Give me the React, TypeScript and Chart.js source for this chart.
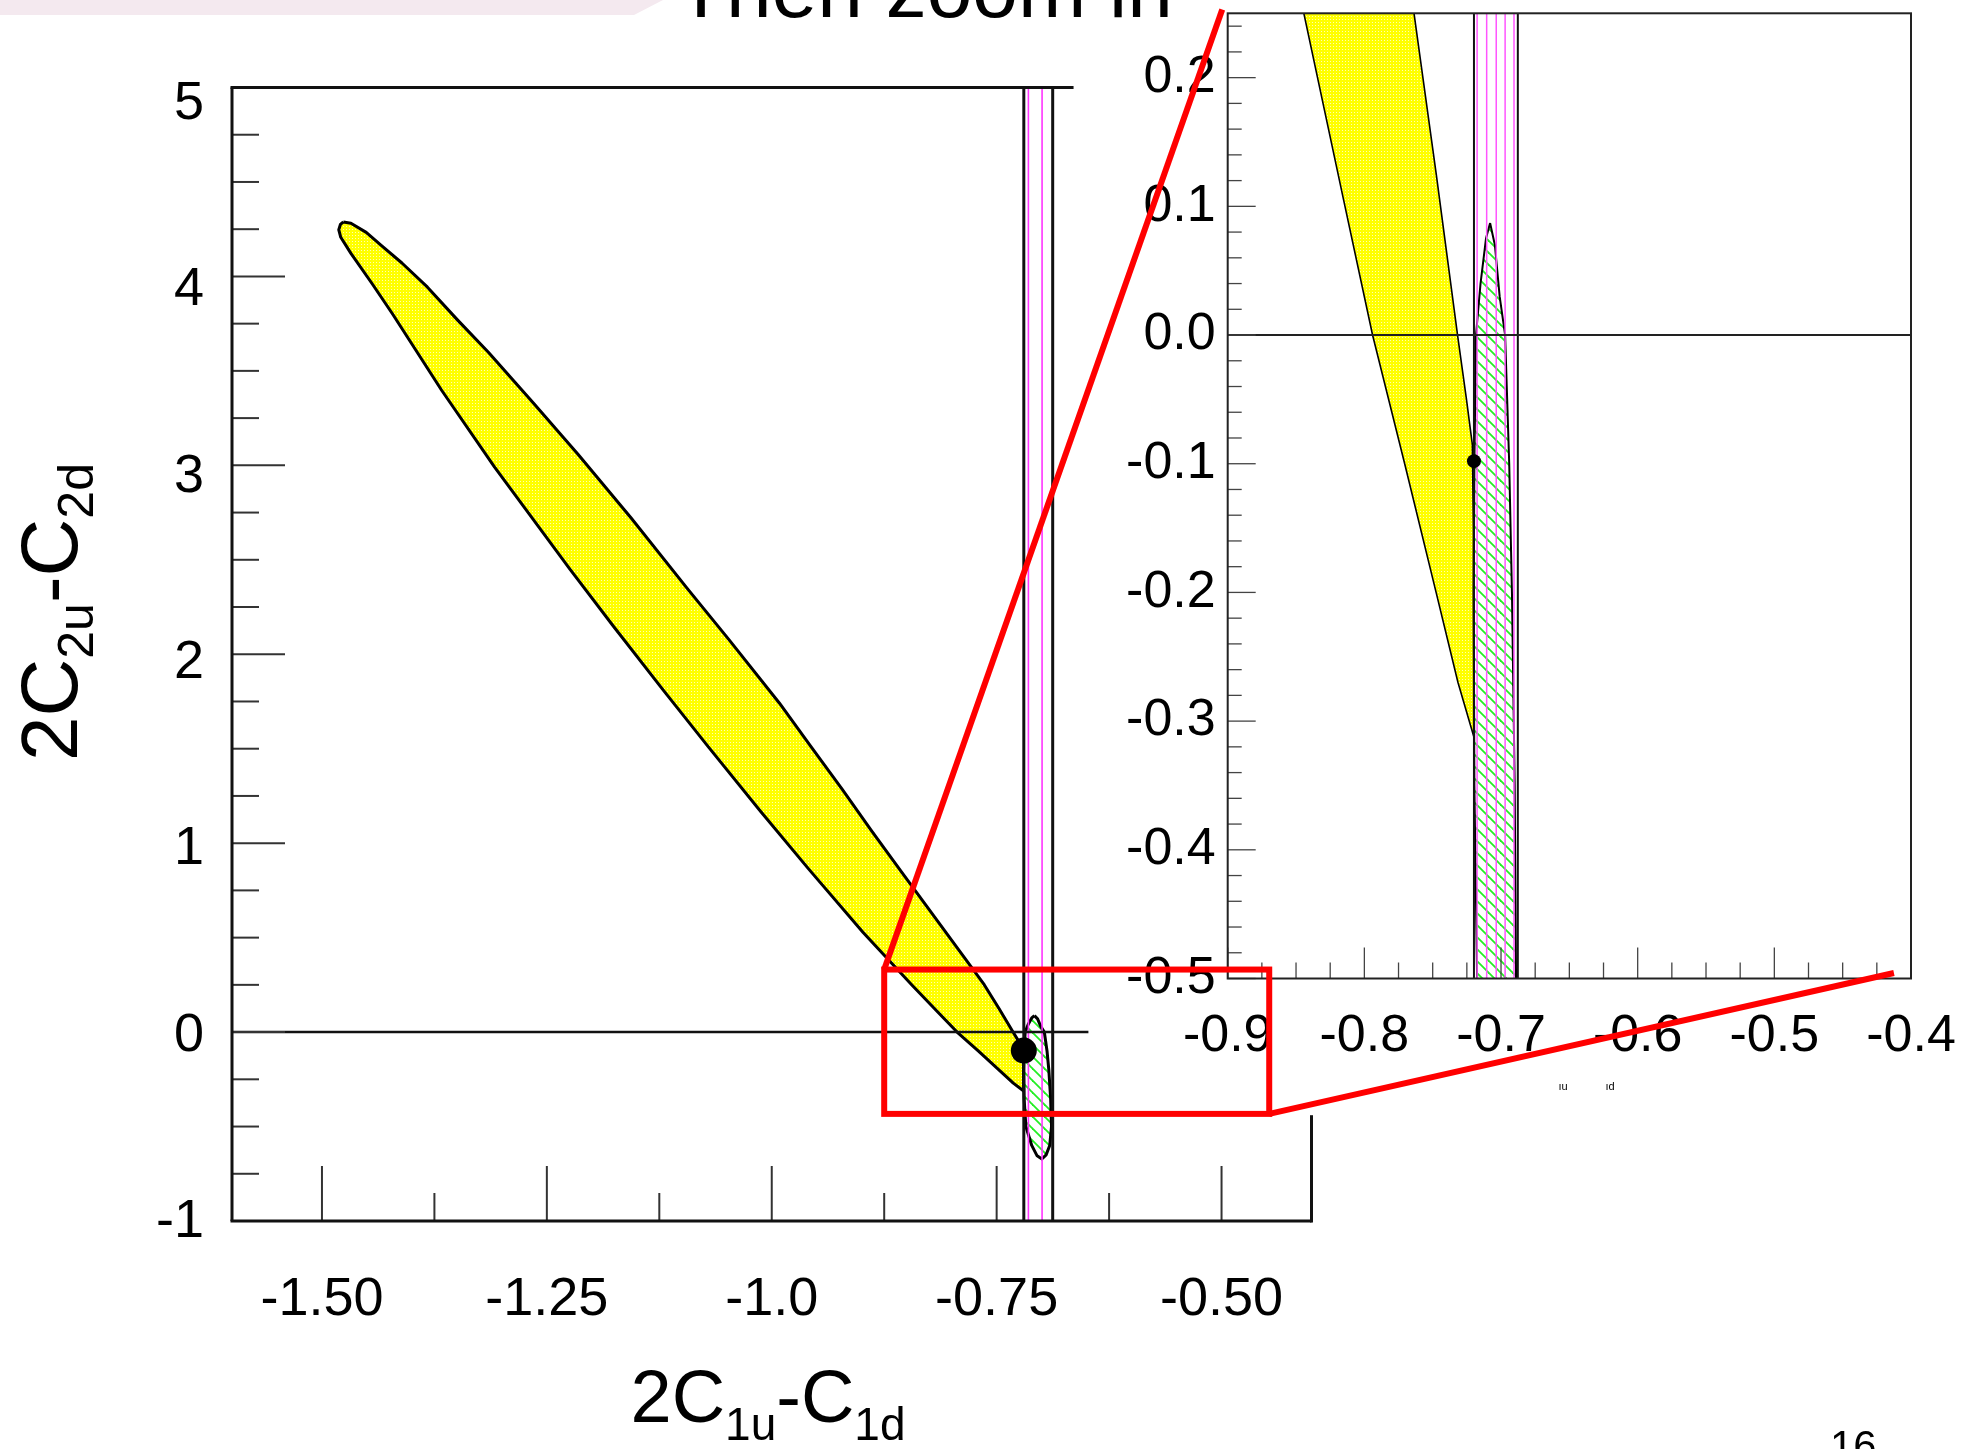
import React, { useEffect, useRef } from 'react';
import { Chart, registerables } from 'chart.js';

Chart.register(...registerables);

const PAGE_W = 1962;
const PAGE_H = 1449;
const FAMILY = '"Liberation Sans", Arial, sans-serif';

// ---------------- slide texts ----------------
const slideTitle = 'Then zoom in';
const pageNumber = '16';
const xTitleParts: [string, boolean][] = [['2C', false], ['1u', true], ['-C', false], ['1d', true]];
const yTitleParts: [string, boolean][] = [['2C', false], ['2u', true], ['-C', false], ['2d', true]];

// ---------------- main panel axes ----------------
const mainXRange = [-1.6, -0.4];
const mainYRange = [-1, 5];
const mainYLabelRange = [-0.995, 5.089];
const mainXMajorTicks = [-1.5, -1.25, -1.0, -0.75, -0.5];
const mainXTickLabels = ['-1.50', '-1.25', '-1.0', '-0.75', '-0.50'];
const mainXMinorTicks = [-1.375, -1.125, -0.875, -0.625];
const mainYMajorTicks = [5, 4, 3, 2, 1, 0, -1];
const mainYTickLabels = ['5', '4', '3', '2', '1', '0', '-1'];
const mainYMinorTicks = [4.75, 4.5, 4.25, 3.75, 3.5, 3.25, 2.75, 2.5, 2.25, 1.75, 1.5, 1.25, 0.75, 0.5, 0.25, -0.25, -0.5, -0.75];
const mainTopLineEnd = -0.6645;
const mainZeroLineEnd = -0.648;
const mainRightLineStart = -0.44;

// ---------------- inset panel axes ----------------
const insetXRange = [-0.9, -0.4];
const insetYRange = [-0.5, 0.25];
const insetXMajorTicks = [-0.9, -0.8, -0.7, -0.6, -0.5, -0.4];
const insetXTickLabels = ['-0.9', '-0.8', '-0.7', '-0.6', '-0.5', '-0.4'];
const insetXMinorStep = 0.025;
const insetYMajorTicks = [0.2, 0.1, 0.0, -0.1, -0.2, -0.3, -0.4, -0.5];
const insetYTickLabels = ['0.2', '0.1', '0.0', '-0.1', '-0.2', '-0.3', '-0.4', '-0.5'];
const insetYMinorStep = 0.02;

// ---------------- data: yellow allowed band contour (upper edge down, lower edge back up) ----------------
const bandX = [
  -1.4762, -1.4678, -1.4508, -1.4338, -1.4111, -1.3827, -1.3494, -1.3150, -1.2650,
  -1.2154, -1.1563, -1.0940, -1.0478, -0.9916, -0.9570, -0.9218, -0.8890, -0.8556, -0.8099,
  -0.7638, -0.7474, -0.7318, -0.7254, -0.7210, -0.7202, -0.7200, -0.7199,
  -0.7315, -0.7475, -0.7705, -0.7940, -0.8152, -0.8445, -0.8984, -0.9591, -1.0123, -1.0698,
  -1.1204, -1.1758, -1.2244, -1.3081, -1.3668, -1.4215, -1.4440, -1.4678, -1.4791, -1.4813,
  -1.4795, -1.4762,
];
const bandY = [
  4.288, 4.281, 4.233, 4.163, 4.071, 3.943, 3.770, 3.599, 3.330,
  3.059, 2.721, 2.349, 2.079, 1.742, 1.515, 1.286, 1.065, 0.847, 0.550,
  0.251, 0.125, 0.000, -0.049, -0.085, -0.150, -0.230, -0.312,
  -0.270, -0.200, -0.100, 0.000, 0.105, 0.251, 0.527, 0.864, 1.168, 1.506,
  1.809, 2.147, 2.451, 2.991, 3.396, 3.801, 3.960, 4.122, 4.207, 4.247,
  4.275, 4.288,
];

// ---------------- data: green hatched ellipse contour ----------------
const ellipseX = [-0.7080, -0.7045, -0.7010, -0.6970, -0.6940, -0.6920, -0.6900, -0.6890, -0.6910, -0.6950, -0.6997, -0.7050, -0.7110, -0.7175, -0.7195, -0.7200, -0.7195, -0.7183, -0.7150, -0.7110, -0.7080];
const ellipseY = [0.087, 0.070, 0.030, 0.000, -0.100, -0.200, -0.350, -0.500, -0.600, -0.650, -0.672, -0.655, -0.600, -0.500, -0.350, -0.200, -0.100, 0.000, 0.040, 0.075, 0.087];

// ---------------- data: vertical bands, best-fit point ----------------
const blackLinesX = [-0.7198, -0.6877];
const mainMagentaLinesX = [-0.7147, -0.6995];
const insetMagentaLinesX = [-0.7175, -0.7105, -0.7035, -0.6970, -0.6905];
const bestFit = [-0.7198, -0.098];

// ---------------- zoom box (main coords) and connector targets (inset coords) ----------------
const zoomBoxX = [-0.875, -0.447];
const zoomBoxY = [-0.433, 0.331];
const connectorTopLeft = [-0.904, 0.253];
const connectorBottomRight = [-0.4125, -0.4957];

const pts = (xs: number[], ys: number[]) => xs.map((x, i) => ({ x, y: ys[i] }));

function makeYellowPattern(ctx: CanvasRenderingContext2D) {
  const c = document.createElement('canvas');
  c.width = 3; c.height = 3;
  const g = c.getContext('2d')!;
  g.fillStyle = '#ffff00'; g.fillRect(0, 0, 3, 3);
  g.fillStyle = '#ffffb4'; g.fillRect(1, 1, 1, 1);
  return ctx.createPattern(c, 'repeat');
}

function makeHatchPattern(ctx: CanvasRenderingContext2D) {
  const s = 12;
  const c = document.createElement('canvas');
  c.width = s; c.height = s;
  const g = c.getContext('2d')!;
  g.fillStyle = '#ffffff'; g.fillRect(0, 0, s, s);
  g.strokeStyle = '#22ee22'; g.lineWidth = 1.8;
  for (const o of [-s, 0, s]) {
    g.beginPath(); g.moveTo(o - 1, -1); g.lineTo(o + s + 1, s + 1); g.stroke();
  }
  return ctx.createPattern(c, 'repeat');
}

const polyFillPlugin = {
  id: 'polyFill',
  beforeDatasetDraw(chart: any, args: any) {
    const ds: any = chart.data.datasets[args.index];
    if (!ds.polyFill) return;
    const p = args.meta.data;
    const { ctx, chartArea: a } = chart;
    ctx.save();
    ctx.beginPath(); ctx.rect(a.left, a.top, a.right - a.left, a.bottom - a.top); ctx.clip();
    ctx.beginPath();
    p.forEach((e: any, i: number) => (i ? ctx.lineTo(e.x, e.y) : ctx.moveTo(e.x, e.y)));
    ctx.closePath();
    ctx.fillStyle = ds.polyFill;
    ctx.fill();
    ctx.restore();
  },
};

function seg(ctx: CanvasRenderingContext2D, x0: number, y0: number, x1: number, y1: number) {
  ctx.beginPath(); ctx.moveTo(x0, y0); ctx.lineTo(x1, y1); ctx.stroke();
}

function drawSubText(ctx: CanvasRenderingContext2D, parts: [string, boolean][], cx: number, baseY: number, big: number, small: number, drop: number) {
  ctx.textAlign = 'left';
  ctx.textBaseline = 'alphabetic';
  let total = 0;
  const widths = parts.map(([t, sub]) => {
    ctx.font = `${sub ? small : big}px ${FAMILY}`;
    const w = ctx.measureText(t).width;
    total += w;
    return w;
  });
  let x = cx - total / 2;
  parts.forEach(([t, sub], i) => {
    ctx.font = `${sub ? small : big}px ${FAMILY}`;
    ctx.fillText(t, x, baseY + (sub ? drop : 0));
    x += widths[i];
  });
}

function lineDs(data: any[], color: string, width: number, order: number) {
  return { data, showLine: true, borderColor: color, borderWidth: width, pointRadius: 0, order, borderJoinStyle: 'round', tension: 0 } as any;
}

export default function App() {
  const mainRef = useRef<HTMLCanvasElement>(null);
  const insetRef = useRef<HTMLCanvasElement>(null);

  useEffect(() => {
    const mc = mainRef.current!;
    const ic = insetRef.current!;
    const mctx = mc.getContext('2d')!;
    const ictx = ic.getContext('2d')!;

    const mainDecor = {
      id: 'mainDecor',
      beforeDraw(chart: any) {
        const { ctx } = chart;
        ctx.save();
        ctx.fillStyle = '#ffffff';
        ctx.fillRect(0, 0, PAGE_W, PAGE_H);
        ctx.fillStyle = '#f4e9ef';
        ctx.beginPath();
        ctx.moveTo(0, 0); ctx.lineTo(663, 0); ctx.lineTo(634, 15); ctx.lineTo(0, 15);
        ctx.closePath(); ctx.fill();
        ctx.fillStyle = '#000';
        ctx.font = `82px ${FAMILY}`;
        ctx.textAlign = 'left';
        ctx.textBaseline = 'alphabetic';
        ctx.fillText(slideTitle, 676, 17);
        ctx.font = `42px ${FAMILY}`;
        ctx.fillText(pageNumber, 1830, 1460);
        ctx.restore();
      },
      afterDatasetsDraw(chart: any) {
        const { ctx, chartArea: a, scales } = chart;
        const xs = scales.x, ys = scales.y, yl = scales.yLab;
        ctx.save();
        ctx.lineCap = 'butt';
        ctx.strokeStyle = '#333';
        ctx.lineWidth = 2;
        mainYMajorTicks.forEach((v) => { const p = ys.getPixelForValue(v); seg(ctx, a.left, p, a.left + 53, p); });
        mainYMinorTicks.forEach((v) => { const p = ys.getPixelForValue(v); seg(ctx, a.left, p, a.left + 27, p); });
        mainXMajorTicks.forEach((v) => { const p = xs.getPixelForValue(v); seg(ctx, p, a.bottom, p, a.bottom - 55); });
        mainXMinorTicks.forEach((v) => { const p = xs.getPixelForValue(v); seg(ctx, p, a.bottom, p, a.bottom - 28); });
        ctx.strokeStyle = '#111';
        ctx.lineWidth = 3;
        seg(ctx, a.left, a.top, a.left, a.bottom);
        seg(ctx, a.left - 1.5, a.bottom, a.right, a.bottom);
        seg(ctx, a.left - 1.5, a.top, xs.getPixelForValue(mainTopLineEnd), a.top);
        seg(ctx, a.right, ys.getPixelForValue(mainRightLineStart), a.right, a.bottom + 1.5);
        ctx.fillStyle = '#000';
        ctx.font = `54px ${FAMILY}`;
        ctx.textAlign = 'right';
        ctx.textBaseline = 'middle';
        mainYMajorTicks.forEach((v, i) => ctx.fillText(mainYTickLabels[i], a.left - 28, yl.getPixelForValue(v)));
        ctx.textAlign = 'center';
        mainXMajorTicks.forEach((v, i) => ctx.fillText(mainXTickLabels[i], xs.getPixelForValue(v), a.bottom + 79));
        drawSubText(ctx, xTitleParts, 768, 1422, 74, 46, 18);
        ctx.save();
        ctx.translate(77, 612);
        ctx.rotate(-Math.PI / 2);
        drawSubText(ctx, yTitleParts, 0, 0, 80, 50, 16);
        ctx.restore();
        ctx.restore();
      },
    };

    const main = new Chart(mc, {
      type: 'scatter',
      data: {
        datasets: [
          { data: [{ x: bestFit[0], y: bestFit[1] }], pointRadius: 13, pointBackgroundColor: '#000', pointBorderWidth: 0, showLine: false, order: 1 } as any,
          ...blackLinesX.map((x) => lineDs([{ x, y: mainYRange[0] }, { x, y: mainYRange[1] }], '#111', 3, 3)),
          ...mainMagentaLinesX.map((x) => lineDs([{ x, y: mainYRange[0] }, { x, y: mainYRange[1] }], '#ff33ff', 1.6, 3)),
          lineDs([{ x: mainXRange[0], y: 0 }, { x: mainZeroLineEnd, y: 0 }], '#111', 2.5, 2),
          { ...lineDs(pts(ellipseX, ellipseY), '#000', 3, 4), polyFill: makeHatchPattern(mctx) },
          { ...lineDs(pts(bandX, bandY), '#000', 3, 5), polyFill: makeYellowPattern(mctx) },
        ],
      },
      options: {
        responsive: false,
        animation: false,
        events: [],
        layout: { padding: { left: 232, top: 87.5, right: PAGE_W - 1311.5, bottom: PAGE_H - 1221 } },
        scales: {
          x: { type: 'linear', min: mainXRange[0], max: mainXRange[1], display: false },
          y: { type: 'linear', min: mainYRange[0], max: mainYRange[1], display: false },
          yLab: { type: 'linear', position: 'left', min: mainYLabelRange[0], max: mainYLabelRange[1], display: false },
        },
        plugins: { legend: { display: false }, tooltip: { enabled: false } },
      } as any,
      plugins: [polyFillPlugin, mainDecor],
    });

    const insetDecor = {
      id: 'insetDecor',
      afterDatasetsDraw(chart: any) {
        const { ctx, chartArea: a, scales } = chart;
        const xs = scales.x, ys = scales.y;
        ctx.save();
        ctx.lineCap = 'butt';
        ctx.strokeStyle = '#444';
        ctx.lineWidth = 1.3;
        for (let k = 0; ; k++) {
          const v = insetYRange[0] + k * insetYMinorStep;
          if (v > insetYRange[1] + 1e-9) break;
          const isMajor = Math.abs(v * 10 - Math.round(v * 10)) < 1e-6;
          const p = ys.getPixelForValue(v);
          seg(ctx, a.left, p, a.left + (isMajor ? 28 : 14), p);
        }
        for (let k = 0; ; k++) {
          const v = insetXRange[0] + k * insetXMinorStep;
          if (v > insetXRange[1] + 1e-9) break;
          const isMajor = Math.abs(v * 10 - Math.round(v * 10)) < 1e-6;
          const p = xs.getPixelForValue(v);
          seg(ctx, p, a.bottom, p, a.bottom - (isMajor ? 31 : 16));
        }
        ctx.strokeStyle = '#222';
        ctx.lineWidth = 2;
        ctx.strokeRect(a.left, a.top, a.right - a.left, a.bottom - a.top);
        ctx.fillStyle = '#000';
        ctx.font = `52px ${FAMILY}`;
        ctx.textAlign = 'right';
        ctx.textBaseline = 'middle';
        insetYMajorTicks.forEach((v, i) => ctx.fillText(insetYTickLabels[i], a.left - 12, ys.getPixelForValue(v)));
        ctx.textAlign = 'center';
        insetXMajorTicks.forEach((v, i) => ctx.fillText(insetXTickLabels[i], xs.getPixelForValue(v), a.bottom + 58));
        ctx.font = `11px ${FAMILY}`;
        ctx.textBaseline = 'alphabetic';
        ctx.fillText('\u0131u', 1563, 1090);
        ctx.fillText('\u0131d', 1610, 1090);
        ctx.restore();
      },
      afterDraw(chart: any) {
        const { ctx, scales } = chart;
        const mx = main.scales.x, my = main.scales.y;
        const x0 = mx.getPixelForValue(zoomBoxX[0]);
        const x1 = mx.getPixelForValue(zoomBoxX[1]);
        const y0 = my.getPixelForValue(zoomBoxY[1]);
        const y1 = my.getPixelForValue(zoomBoxY[0]);
        ctx.save();
        ctx.strokeStyle = '#ff0000';
        ctx.lineWidth = 6;
        ctx.lineJoin = 'miter';
        ctx.strokeRect(x0, y0, x1 - x0, y1 - y0);
        ctx.lineCap = 'butt';
        seg(ctx, x0, y0, scales.x.getPixelForValue(connectorTopLeft[0]), scales.y.getPixelForValue(connectorTopLeft[1]));
        seg(ctx, x1, y1, scales.x.getPixelForValue(connectorBottomRight[0]), scales.y.getPixelForValue(connectorBottomRight[1]));
        ctx.restore();
      },
    };

    const inset = new Chart(ic, {
      type: 'scatter',
      data: {
        datasets: [
          { data: [{ x: bestFit[0], y: bestFit[1] }], pointRadius: 7, pointBackgroundColor: '#000', pointBorderWidth: 0, showLine: false, order: 1 } as any,
          ...blackLinesX.map((x) => lineDs([{ x, y: insetYRange[0] }, { x, y: insetYRange[1] }], '#111', 2, 3)),
          ...insetMagentaLinesX.map((x) => lineDs([{ x, y: insetYRange[0] }, { x, y: insetYRange[1] }], '#ff55ff', 1.5, 3)),
          lineDs([{ x: insetXRange[0], y: 0 }, { x: insetXRange[1], y: 0 }], '#222', 2, 2),
          { ...lineDs(pts(ellipseX, ellipseY), '#000', 2, 4), polyFill: makeHatchPattern(ictx) },
          { ...lineDs(pts(bandX, bandY), '#000', 1.6, 5), polyFill: makeYellowPattern(ictx) },
        ],
      },
      options: {
        responsive: false,
        animation: false,
        events: [],
        layout: { padding: { left: 1227.7, top: 13.3, right: PAGE_W - 1911, bottom: PAGE_H - 978.5 } },
        scales: {
          x: { type: 'linear', min: insetXRange[0], max: insetXRange[1], display: false },
          y: { type: 'linear', min: insetYRange[0], max: insetYRange[1], display: false },
        },
        plugins: { legend: { display: false }, tooltip: { enabled: false } },
      } as any,
      plugins: [polyFillPlugin, insetDecor],
    });

    return () => {
      inset.destroy();
      main.destroy();
    };
  }, []);

  return (
    <div style={{ position: 'absolute', left: 0, top: 0, width: PAGE_W, height: PAGE_H, overflow: 'hidden', background: '#fff' }}>
      <canvas ref={mainRef} width={PAGE_W} height={PAGE_H} style={{ position: 'absolute', left: 0, top: 0 }} />
      <canvas ref={insetRef} width={PAGE_W} height={PAGE_H} style={{ position: 'absolute', left: 0, top: 0 }} />
    </div>
  );
}
